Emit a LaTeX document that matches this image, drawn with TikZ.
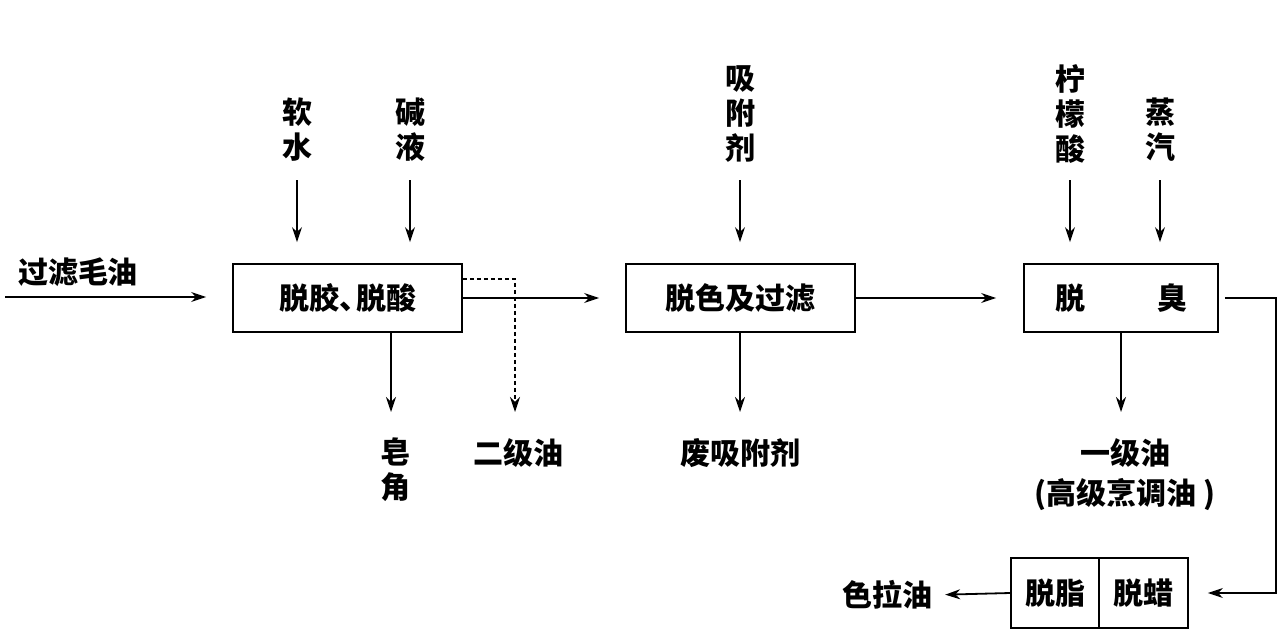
\documentclass[tikz,border=0pt]{standalone}
\usepackage{fontspec}
\newfontfamily\cjk{Noto Sans CJK SC}
\usetikzlibrary{arrows.meta}
\begin{document}
\begin{tikzpicture}[x=1pt,y=-1pt,
  font=\cjk\bfseries\fontsize{30}{35}\selectfont,
  box/.style={draw, line width=1.8pt, minimum height=68pt, inner sep=0pt},
  arr/.style={line width=1.8pt, -{Stealth[length=15pt,width=10pt]}},
  dsh/.style={line width=1.2pt, dash pattern=on 4pt off 3pt, -{Stealth[length=15pt,width=10pt]}},
  lab/.style={inner sep=0pt, align=center}]
\useasboundingbox (0,0) rectangle (1283,632);
% boxes
\node[box, minimum width=229pt] (b1) at (347.5,298) {脱胶、\kern-13pt脱酸};
\node[box, minimum width=229pt] (b2) at (740.5,298) {脱色及过滤};
\node[box, minimum width=194pt] (b3) at (1121,298) {脱\hspace{72pt}臭};
\node[box, minimum width=88pt, minimum height=70pt] (b4a) at (1055,593) {脱脂};
\node[box, minimum width=89pt, minimum height=70pt] (b4b) at (1143.5,593) {脱蜡};
% labels
\node[lab] (in) at (78,272) {过滤毛油};
\node[lab] (rs) at (297,130) {软\\水};
\node[lab] (jy) at (410,130) {碱\\液};
\node[lab] (xfj) at (740,114) {吸\\附\\剂};
\node[lab] (nmy) at (1070,114) {柠\\檬\\酸};
\node[lab] (zq) at (1160,130) {蒸\\汽};
\node[lab] (zj) at (395,470) {皂\\角};
\node[lab] (ej) at (518,453) {二级油};
\node[lab] (fx) at (740,453) {废吸附剂};
\node[lab] (yj) at (1125,453) {一级油};
\node[lab] (gj) at (1125,495) {(高级烹调油 )};
\node[lab] (sly) at (887,595) {色拉油};
% free ends
\coordinate (inStart) at (5,297);
\coordinate (zjtip) at (391,412);
\coordinate (ejtip) at (515,412);
\coordinate (fxtip) at (740,412);
\coordinate (yjtip) at (1121,412);
% inputs from top
\draw[arr, shorten >=21pt] (297,180) -- (rs |- b1.north);
\draw[arr, shorten >=21pt] (410,180) -- (jy |- b1.north);
\draw[arr, shorten >=21pt] (740,180) -- (xfj |- b2.north);
\draw[arr, shorten >=21pt] (1070,180) -- (nmy |- b3.north);
\draw[arr, shorten >=21pt] (1160,180) -- (zq |- b3.north);
% main line
\draw[arr, shorten >=26pt] (inStart) -- (b1.west |- inStart);
\draw[arr, shorten >=26pt] (b1.east) -- (b2.west);
\draw[arr, shorten >=27pt] (b2.east) -- (b3.west);
% outputs
\draw[arr] (zjtip |- b1.south) -- (zjtip);
\draw[dsh] ([yshift=19pt]b1.east) -| (ejtip);
\draw[arr] (fxtip |- b2.south) -- (fxtip);
\draw[arr] (yjtip |- b3.south) -- (yjtip);
\draw[arr, shorten >=19pt] ([xshift=6pt]b3.east) -- ([xshift=57pt]b3.east) |- (b4b.east);
\draw[arr, shorten >=13pt] (b4a.west) -- (sly.east);
\end{tikzpicture}
\end{document}
